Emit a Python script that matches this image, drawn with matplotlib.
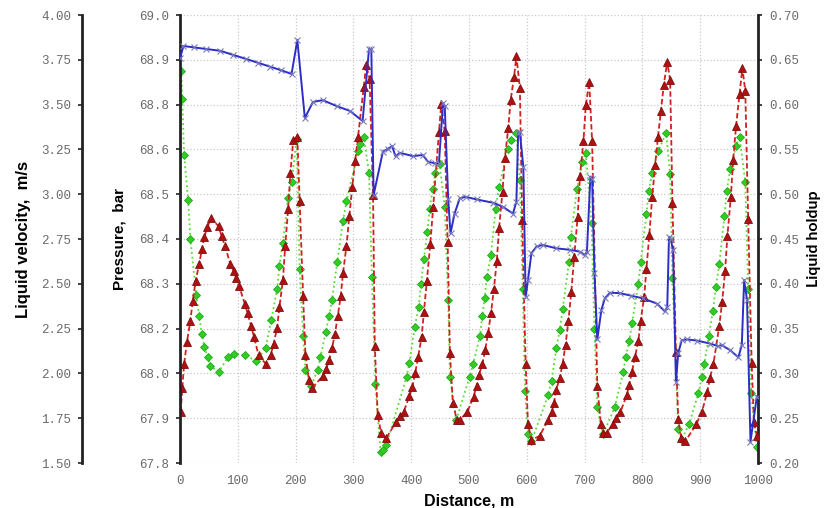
#!/usr/bin/env python3
"""Pressure, liquid velocity and liquid holdup along a pipeline (3 y-axes)."""

import numpy as np
import matplotlib
matplotlib.use("Agg")
import matplotlib.pyplot as plt

# -- data ---------------------------------------------------------------------
# liquid holdup (red triangles, right axis)
holdup_x = [1, 4, 7, 12, 18, 22, 27, 33, 38, 42, 47, 54, 67, 72, 78, 87, 93, 97,
            102, 112, 117, 123, 128, 136, 148, 157, 162, 168, 172, 178, 182, 187,
            191, 196, 203, 207, 213, 217, 223, 229, 247, 253, 258, 263, 268, 273,
            278, 282, 288, 293, 298, 303, 308, 318, 322, 328, 334, 337, 342, 348,
            357, 374, 381, 387, 397, 402, 407, 412, 418, 422, 427, 433, 438, 448,
            452, 458, 463, 467, 472, 479, 484, 497, 508, 513, 517, 523, 528, 533,
            538, 543, 548, 552, 558, 562, 568, 572, 578, 582, 588, 592, 598, 602,
            608, 622, 637, 643, 647, 651, 657, 662, 667, 672, 677, 682, 688, 692,
            698, 702, 708, 713, 722, 728, 732, 738, 749, 755, 762, 773, 777, 782,
            787, 793, 797, 803, 807, 812, 817, 822, 827, 832, 837, 843, 848, 852,
            858, 862, 867, 874, 893, 903, 912, 917, 923, 933, 938, 943, 947, 953,
            957, 962, 968, 973, 978, 983, 989, 993, 998]
holdup = [0.257, 0.284, 0.310, 0.335, 0.359, 0.381, 0.403, 0.422, 0.439, 0.452,
          0.463, 0.473, 0.464, 0.453, 0.442, 0.422, 0.414, 0.406, 0.398, 0.378,
          0.367, 0.353, 0.341, 0.320, 0.311, 0.321, 0.333, 0.351, 0.374, 0.404,
          0.442, 0.483, 0.524, 0.561, 0.564, 0.492, 0.386, 0.321, 0.293, 0.284,
          0.297, 0.305, 0.315, 0.328, 0.344, 0.364, 0.386, 0.412, 0.442, 0.476,
          0.508, 0.537, 0.564, 0.620, 0.644, 0.629, 0.499, 0.331, 0.254, 0.233,
          0.228, 0.246, 0.252, 0.257, 0.275, 0.285, 0.301, 0.318, 0.341, 0.369,
          0.403, 0.444, 0.486, 0.569, 0.601, 0.570, 0.447, 0.323, 0.267, 0.248,
          0.248, 0.257, 0.274, 0.286, 0.298, 0.310, 0.326, 0.345, 0.367, 0.394,
          0.425, 0.462, 0.503, 0.540, 0.574, 0.605, 0.631, 0.654, 0.619, 0.471,
          0.311, 0.244, 0.226, 0.230, 0.248, 0.257, 0.267, 0.282, 0.295, 0.311,
          0.332, 0.359, 0.391, 0.430, 0.475, 0.520, 0.559, 0.599, 0.625, 0.559,
          0.286, 0.244, 0.233, 0.233, 0.244, 0.250, 0.257, 0.276, 0.287, 0.302,
          0.318, 0.336, 0.359, 0.385, 0.417, 0.455, 0.497, 0.533, 0.564, 0.593,
          0.622, 0.648, 0.627, 0.490, 0.324, 0.249, 0.228, 0.224, 0.243, 0.257,
          0.279, 0.295, 0.311, 0.353, 0.380, 0.414, 0.453, 0.497, 0.538, 0.576,
          0.612, 0.641, 0.615, 0.472, 0.312, 0.246, 0.230]

# liquid velocity (green diamonds, outer left axis)
velocity_x = [2, 4, 7, 14, 18, 28, 33, 38, 42, 48, 52, 67, 83, 93, 113, 132, 148,
              158, 168, 172, 178, 187, 193, 202, 207, 213, 217, 227, 238, 243, 252,
              258, 263, 272, 282, 288, 308, 312, 318, 327, 332, 338, 347, 351, 357,
              392, 397, 406, 413, 417, 422, 428, 432, 437, 442, 449, 458, 464, 467,
              478, 501, 507, 519, 523, 527, 531, 538, 546, 552, 567, 572, 582, 588,
              593, 597, 602, 608, 637, 643, 651, 657, 662, 673, 676, 687, 696, 702,
              712, 717, 722, 732, 752, 767, 771, 777, 782, 793, 797, 807, 811, 817,
              827, 841, 848, 852, 862, 868, 881, 897, 903, 907, 915, 922, 927, 933,
              942, 946, 952, 962, 968, 978, 983, 988, 998]
velocity = [3.69, 3.53, 3.22, 2.97, 2.75, 2.44, 2.32, 2.22, 2.15, 2.09, 2.04, 2.01,
            2.09, 2.11, 2.10, 2.07, 2.14, 2.30, 2.47, 2.60, 2.73, 2.98, 3.07, 3.31,
            2.58, 2.21, 2.02, 1.93, 2.02, 2.09, 2.23, 2.32, 2.41, 2.62, 2.85, 2.96,
            3.24, 3.28, 3.32, 3.12, 2.54, 1.94, 1.56, 1.57, 1.60, 1.98, 2.06, 2.26,
            2.37, 2.50, 2.64, 2.79, 2.92, 3.03, 3.12, 3.17, 2.93, 2.41, 1.98, 1.74,
            1.98, 2.05, 2.21, 2.32, 2.42, 2.54, 2.66, 2.92, 3.04, 3.25, 3.30, 3.34,
            3.08, 2.47, 1.90, 1.66, 1.62, 1.88, 1.96, 2.14, 2.24, 2.36, 2.62, 2.76,
            3.03, 3.18, 3.23, 2.84, 2.25, 1.81, 1.66, 1.81, 2.01, 2.09, 2.18, 2.28,
            2.50, 2.62, 2.89, 3.02, 3.12, 3.24, 3.34, 3.11, 2.53, 1.69, 1.63, 1.72,
            1.89, 1.98, 2.05, 2.21, 2.35, 2.48, 2.61, 2.88, 3.02, 3.14, 3.27, 3.32,
            3.07, 2.47, 1.89, 1.59]

# pressure (blue crosses, inner left axis)
pressure_x = [0, 6, 25, 45, 70, 92, 115, 135, 155, 175, 193, 203, 216, 230, 247,
              271, 294, 316, 327, 331, 335, 351, 360, 367, 373, 380, 403, 420, 429,
              441, 448, 455, 458, 464, 468, 475, 484, 494, 513, 542, 559, 576, 582,
              585, 588, 594, 598, 602, 608, 617, 628, 651, 675, 692, 700, 704, 710,
              713, 717, 722, 729, 735, 744, 761, 781, 801, 825, 839, 843, 846, 849,
              853, 858, 862, 868, 877, 894, 917, 931, 937, 952, 966, 972, 976, 981,
              987, 998]
pressure = [68.884, 68.917, 68.913, 68.909, 68.904, 68.893, 68.882, 68.872,
            68.862, 68.852, 68.842, 68.933, 68.724, 68.767, 68.772, 68.756,
            68.743, 68.716, 68.909, 68.909, 68.518, 68.634, 68.642, 68.649,
            68.621, 68.631, 68.622, 68.625, 68.607, 68.603, 68.603, 68.764,
            68.756, 68.507, 68.415, 68.468, 68.509, 68.513, 68.506, 68.497,
            68.486, 68.468, 68.500, 68.683, 68.686, 68.593, 68.245, 68.290,
            68.362, 68.380, 68.384, 68.375, 68.371, 68.366, 68.357, 68.365,
            68.567, 68.562, 68.309, 68.131, 68.210, 68.241, 68.256, 68.255,
            68.248, 68.241, 68.227, 68.206, 68.219, 68.406, 68.400, 68.370,
            68.018, 68.094, 68.129, 68.131, 68.128, 68.120, 68.113, 68.116,
            68.102, 68.083, 68.116, 68.290, 68.237, 67.857, 67.978]

dist_ticks = list(range(0, 1001, 100))

# -- figure -------------------------------------------------------------------
W, H = 827, 508
fig = plt.figure(figsize=(W / 100, H / 100), dpi=100)

tick_font = dict(family="Liberation Mono", size=9)
label_font = dict(family="Liberation Sans", weight="bold")
tick_col = "#6a6a6a"
spine_col = "#222222"

# base axes: liquid velocity (outer left), carries the x axis and the grid
ax_v = fig.add_axes([180 / W, 45 / H, 578 / W, 448 / H])
ax_h = ax_v.twinx()
ax_p = ax_v.twinx()

# spines first (moving a spine resets its ticks)
for a in (ax_v, ax_h, ax_p):
    for s in a.spines.values():
        s.set_visible(False)
ax_v.spines["left"].set_visible(True)
ax_v.spines["left"].set_position(("outward", 70.5))
ax_p.spines["left"].set_visible(True)
ax_h.spines["right"].set_visible(True)
for a, side in ((ax_v, "left"), (ax_p, "left"), (ax_h, "right")):
    a.spines[side].set_linewidth(2)
    a.spines[side].set_color(spine_col)

ax_v.set_xlim(0, 1000)
ax_v.set_ylim(1.5, 4.0)
ax_h.set_ylim(0.2, 0.7)
ax_p.set_ylim(67.8, 69.0)

# ticks and grid
ax_v.set_xticks(dist_ticks)
ax_v.set_xticklabels([str(t) for t in dist_ticks], fontdict=tick_font, color=tick_col)
v_ticks = np.linspace(1.5, 4.0, 11)
ax_v.set_yticks(v_ticks)
ax_v.set_yticklabels([f"{t:.2f}" for t in v_ticks], fontdict=tick_font, color=tick_col)
ax_v.grid(True, color="#c8c8c8", linestyle=":", linewidth=0.9)
ax_v.tick_params(axis="x", length=0, pad=9)

h_ticks = np.linspace(0.2, 0.7, 11)
ax_h.set_yticks(h_ticks)
ax_h.set_yticklabels([f"{t:.2f}" for t in h_ticks], fontdict=tick_font, color=tick_col)

p_ticks = np.linspace(67.8, 69.0, 11)
ax_p.yaxis.tick_left()
ax_p.yaxis.set_label_position("left")
ax_p.set_yticks(p_ticks)
ax_p.set_yticklabels([f"{t:.1f}" for t in p_ticks], fontdict=tick_font, color=tick_col)

for a in (ax_v, ax_h, ax_p):
    a.tick_params(axis="y", length=3, width=1.2, color=spine_col, pad=5)

# series
ax_v.plot(velocity_x, velocity, linestyle=":", color="#55dd33", linewidth=1.3,
          marker="D", markersize=4.2, markerfacecolor="#33cc22",
          markeredgecolor="#22aa22", markeredgewidth=0.6, zorder=3)
ax_h.plot(holdup_x, holdup, linestyle="--", color="#d02020", linewidth=1.3,
          dashes=(3, 1.5), marker="^", markersize=5.5, markerfacecolor="#b01010",
          markeredgecolor="#801010", markeredgewidth=0.6, zorder=3)
ax_p.plot(pressure_x, pressure, linestyle="-", color="#2d2dc8", linewidth=1.4,
          marker="x", markersize=5, markeredgecolor="#7a7ab8",
          markeredgewidth=0.8, zorder=3)

# axis labels
ax_v.set_xlabel("Distance, m", fontsize=11.5, labelpad=4, **label_font)
ax_v.set_ylabel("Liquid velocity,  m/s", fontsize=12, labelpad=7, **label_font)
ax_p.set_ylabel("Pressure,  bar", fontsize=11, labelpad=9, **label_font)
ax_h.set_ylabel("Liquid holdup", fontsize=11.5, labelpad=6, family="Lato",
                weight="bold")

fig.savefig("out.png", dpi=100)
plt.close(fig)
